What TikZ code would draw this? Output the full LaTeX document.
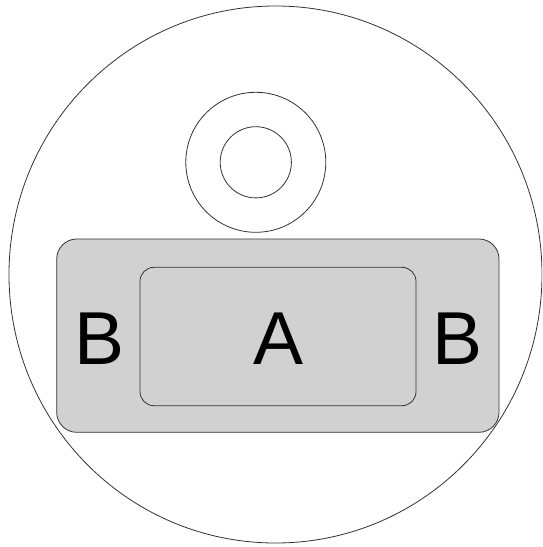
\documentclass[tikz,border=0pt]{standalone}
\usepackage{fontspec}
\setmainfont{Liberation Sans}
\begin{document}
\begin{tikzpicture}[x=1pt,y=-1pt,
  line/.style={draw=black!80, line width=0.8pt},
  boxshape/.style={line, fill=black!18},
  lbl/.style={font=\fontsize{75}{75}\selectfont, inner sep=0pt}]
\useasboundingbox (0,0) rectangle (542,547);
\begin{scope}
\clip (0,0) rectangle (542,547);
\draw[line] (275.5,274.5) ellipse [x radius=266.5, y radius=268.5];
\end{scope}
\draw[line] (255.8,162.3) circle [radius=70];
\draw[line] (255.8,162.3) circle [radius=35.6];
\draw[boxshape, rounded corners=20pt] (56.7,239) rectangle (499,432.3);
\draw[boxshape, rounded corners=14pt] (140,267.3) rectangle (416,405.7);
\node[lbl] (a) at (279,339) {A};
\node[lbl] (bl) at (100,339) {B};
\node[lbl] (br) at (458,339) {B};
\end{tikzpicture}
\end{document}
